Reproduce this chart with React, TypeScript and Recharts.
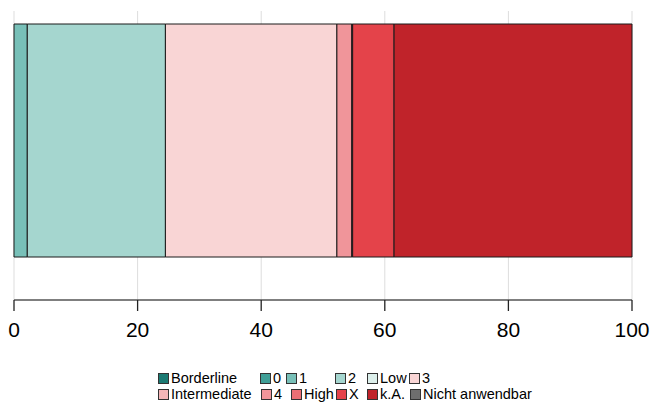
import React from "react";
import { BarChart, Bar, XAxis, YAxis, CartesianGrid } from "recharts";

const categories = ["Gesamt"];
const seriesNames = ["Borderline", "0", "1", "2", "Low", "3", "Intermediate", "4", "High", "X", "k.A.", "Nicht anwendbar"];
const seriesValues = [0, 0, 2.15, 22.35, 0, 27.75, 0, 2.4, 0.15, 6.7, 38.5, 0];
const seriesColors = ["#1b7a73", "#3f9f97", "#78c0b8", "#a5d6cf", "#dcefeb", "#f9d5d5", "#f5b6b8", "#f0959a", "#ec6f74", "#e4434a", "#c0232a", "#6e6e6e"];
const xTicks = [0, 20, 40, 60, 80, 100];
const legendRow1 = ["Borderline", "0", "1", "2", "Low", "3"];
const legendRow2 = ["Intermediate", "4", "High", "X", "k.A.", "Nicht anwendbar"];

const data = categories.map((name) => {
  const row: Record<string, number | string> = { name };
  seriesNames.forEach((s, i) => {
    row[s] = seriesValues[i];
  });
  return row;
});

const row1X = [158, 260, 286, 335, 367, 409];
const row2X = [158, 261, 291, 336, 367, 410];

const font = "'Liberation Sans', Arial, sans-serif";

function LegendRow({ names, xs, top }: { names: string[]; xs: number[]; top: number }) {
  return (
    <>
      {names.map((n, i) => {
        const idx = seriesNames.indexOf(n);
        return (
          <div
            key={n}
            style={{
              position: "absolute",
              left: xs[i],
              top,
              display: "flex",
              alignItems: "center",
              fontFamily: font,
              fontSize: 14.5,
              lineHeight: "16px",
              color: "#000",
              whiteSpace: "nowrap",
            }}
          >
            <span
              style={{
                display: "inline-block",
                width: 9,
                height: 9,
                background: seriesColors[idx],
                border: "1px solid #333",
                marginRight: 2,
              }}
            />
            {n}
          </div>
        );
      })}
    </>
  );
}

export default function App() {
  return (
    <div style={{ position: "absolute", left: 0, top: 0, width: 652, height: 403, background: "#fff" }}>
      <BarChart
        width={652}
        height={350}
        data={data}
        layout="vertical"
        margin={{ top: 11, right: 20, left: 14, bottom: 0 }}
        barSize={233}
      >
        <CartesianGrid horizontal={false} stroke="#dddddd" strokeWidth={1} />
        <XAxis
          type="number"
          domain={[0, 100]}
          ticks={xTicks}
          height={50}
          tickSize={11}
          tickMargin={11}
          axisLine={{ stroke: "#555", strokeWidth: 1.3 }}
          tickLine={{ stroke: "#222", strokeWidth: 1.3 }}
          tick={{ fill: "#000", fontSize: 21, fontFamily: font }}
          interval={0}
        />
        <YAxis
          type="category"
          dataKey="name"
          width={0}
          tick={false}
          tickLine={false}
          axisLine={{ stroke: "#111", strokeWidth: 1.5 }}
          padding={{ top: 0, bottom: 30 }}
        />
        {seriesNames.map((s, i) => (
          <Bar
            key={s}
            dataKey={s}
            stackId="a"
            fill={seriesColors[i]}
            stroke="#1a1a1a"
            strokeWidth={1}
            isAnimationActive={false}
          />
        ))}
      </BarChart>
      <LegendRow names={legendRow1} xs={row1X} top={370} />
      <LegendRow names={legendRow2} xs={row2X} top={386} />
    </div>
  );
}
